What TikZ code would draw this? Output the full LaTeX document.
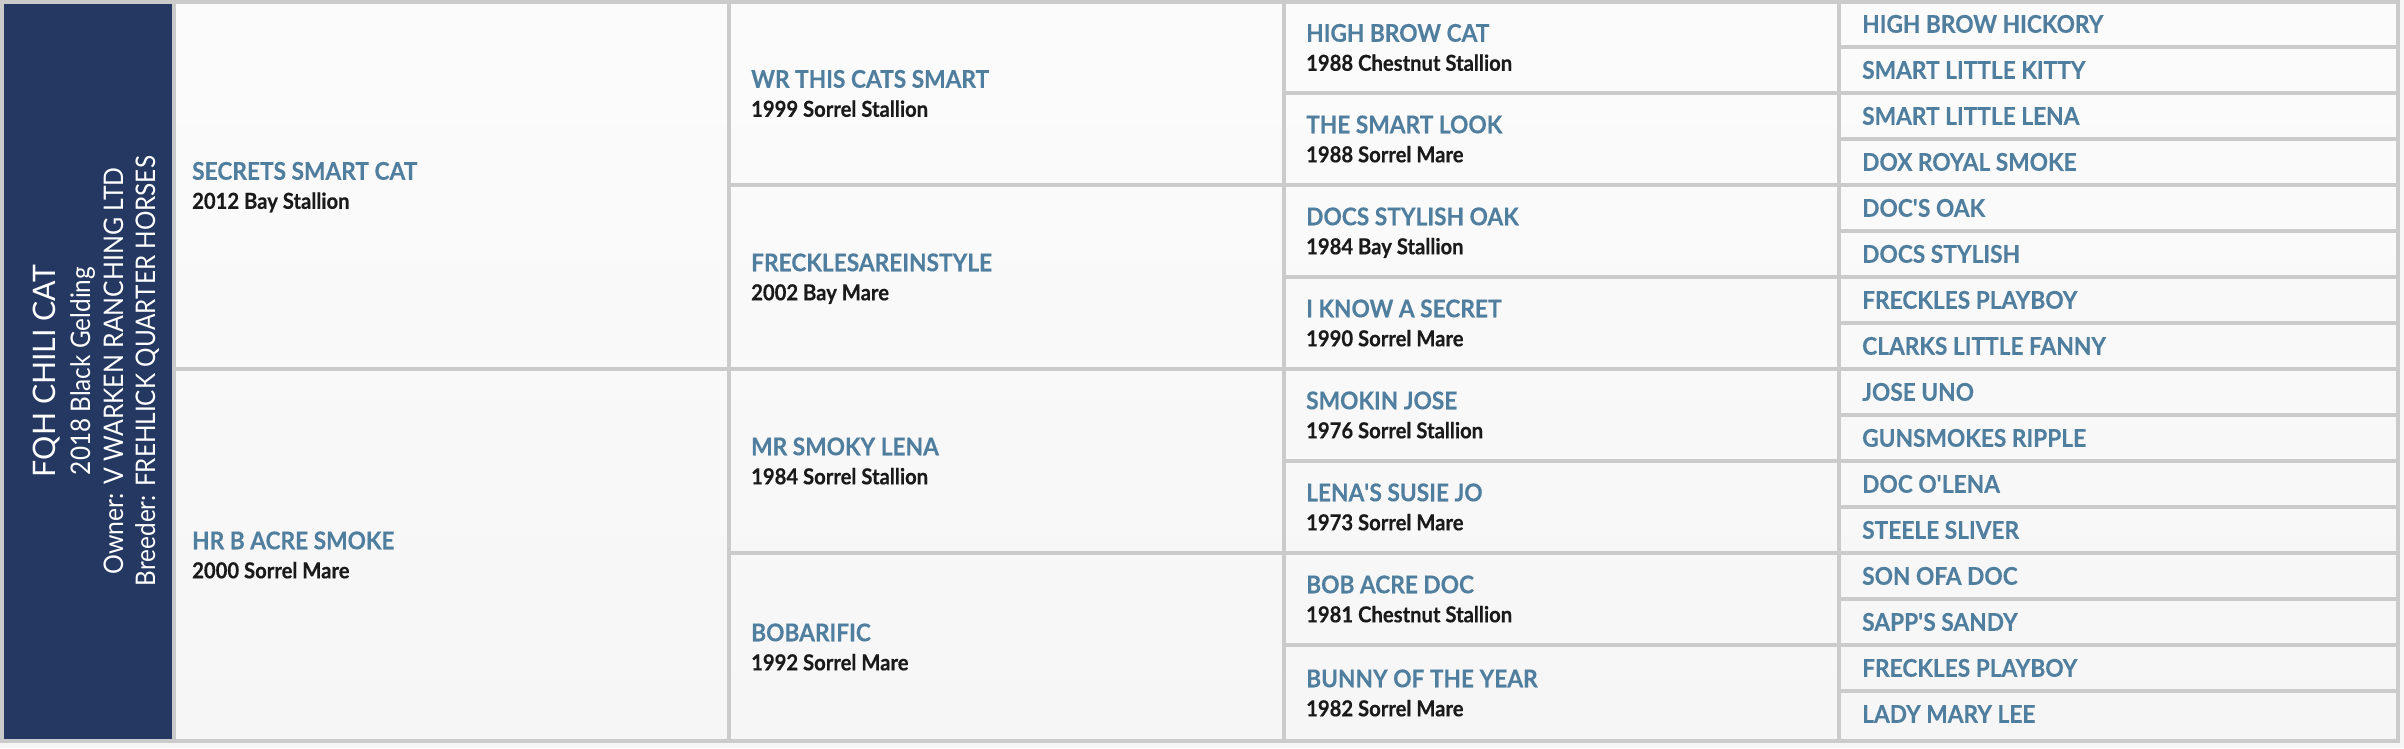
\documentclass[tikz,border=0pt]{standalone}
\usepackage{fontspec}
\usepackage{graphicx}
\setmainfont{Lato}
\newfontfamily\pedfont{Lato}[FakeStretch=0.93, FakeBold=0.3]
\newfontfamily\peddetfont{Lato}[FakeStretch=0.92, FakeBold=0.4]
\newfontfamily\subjfont{Lato}
\definecolor{navy}{HTML}{253861}
\definecolor{nameblue}{HTML}{4F7E9E}
\definecolor{detailc}{HTML}{1A1A1A}
\definecolor{gridgray}{HTML}{CBCBCB}
\definecolor{pagebg}{HTML}{F6F6F6}
\newcommand{\fitlen}[2]{\resizebox{#1pt}{\height}{#2}}
\begin{document}
\begin{tikzpicture}[x=1pt,y=-1pt,
  gridline/.style={draw=gridgray, line width=4pt},
  horsename/.style={anchor=base west, inner sep=0pt, text=nameblue, font=\pedfont\bfseries\fontsize{24.4}{26}\selectfont},
  horsedetail/.style={anchor=base west, inner sep=0pt, text=detailc, font=\peddetfont\bfseries\fontsize{22}{24}\selectfont},
  subjtext/.style={anchor=base, inner sep=0pt, rotate=90, text=white, font=\subjfont\fontsize{27}{29}\selectfont},
  subjtitle/.style={subjtext, font=\subjfont\fontsize{31}{33}\selectfont}]
\useasboundingbox (0,0) rectangle (2404,748);
\fill[pagebg] (0,0) rectangle (2404,748);
\shade[top color=white!60!pagebg, bottom color=pagebg] (2,2) rectangle (2398,741);
\fill[navy] (2,2) rectangle (174,741);
% grid
\draw[gridline] (2,2) rectangle (2398,741);
\foreach \x in {174,729,1284,1839} \draw[gridline] (\x,2) -- (\x,741);
\draw[gridline] (174,369) -- (729,369);
\foreach \y in {185,369,553} \draw[gridline] (729,\y) -- (1284,\y);
\foreach \k in {1,...,7} \draw[gridline] (1284,{1+92*\k}) -- (1839,{1+92*\k});
\foreach \k in {1,...,15} \draw[gridline] (1839,{1+46*\k}) -- (2398,{1+46*\k});
% subject
\node[subjtitle] (subj) at (56,371) {\fitlen{212}{FQH CHILI CAT}};
\node[subjtext] (subjinfo) at (90,371) {\fitlen{208}{2018 Black Gelding}};
\node[subjtext] (owner) at (123,371) {\fitlen{407}{Owner: V WARKEN RANCHING LTD}};
\node[subjtext] (breeder) at (155,371) {\fitlen{430}{Breeder: FREHLICK QUARTER HORSES}};
% column 1
\node[horsename] (s) at (192,{185.5-5.75}) {SECRETS SMART CAT};
\node[horsedetail] (sd) at (192,{185.5+23.3}) {2012 Bay Stallion};
\node[horsename] (d) at (192,{555-5.75}) {HR B ACRE SMOKE};
\node[horsedetail] (dd) at (192,{555+23.3}) {2000 Sorrel Mare};
% column 2
\node[horsename] (ss) at (751,{93.5-5.75}) {WR THIS CATS SMART};
\node[horsedetail] (ssd) at (751,{93.5+23.3}) {1999 Sorrel Stallion};
\node[horsename] (sdm) at (751,{277-5.75}) {FRECKLESAREINSTYLE};
\node[horsedetail] (sdmd) at (751,{277+23.3}) {2002 Bay Mare};
\node[horsename] (ds) at (751,{461-5.75}) {MR SMOKY LENA};
\node[horsedetail] (dsd) at (751,{461+23.3}) {1984 Sorrel Stallion};
\node[horsename] (dm) at (751,{647-5.75}) {BOBARIFIC};
\node[horsedetail] (dmd) at (751,{647+23.3}) {1992 Sorrel Mare};
% column 3
\node[horsename] (g1) at (1306,{47.5-5.75}) {HIGH BROW CAT};
\node[horsedetail] (g1d) at (1306,{47.5+23.3}) {1988 Chestnut Stallion};
\node[horsename] (g2) at (1306,{139-5.75}) {THE SMART LOOK};
\node[horsedetail] (g2d) at (1306,{139+23.3}) {1988 Sorrel Mare};
\node[horsename] (g3) at (1306,{231-5.75}) {DOCS STYLISH OAK};
\node[horsedetail] (g3d) at (1306,{231+23.3}) {1984 Bay Stallion};
\node[horsename] (g4) at (1306,{323-5.75}) {I KNOW A SECRET};
\node[horsedetail] (g4d) at (1306,{323+23.3}) {1990 Sorrel Mare};
\node[horsename] (g5) at (1306,{415-5.75}) {SMOKIN JOSE};
\node[horsedetail] (g5d) at (1306,{415+23.3}) {1976 Sorrel Stallion};
\node[horsename] (g6) at (1306,{507-5.75}) {LENA\textquotesingle S SUSIE JO};
\node[horsedetail] (g6d) at (1306,{507+23.3}) {1973 Sorrel Mare};
\node[horsename] (g7) at (1306,{599-5.75}) {BOB ACRE DOC};
\node[horsedetail] (g7d) at (1306,{599+23.3}) {1981 Chestnut Stallion};
\node[horsename] (g8) at (1306,{693-5.75}) {BUNNY OF THE YEAR};
\node[horsedetail] (g8d) at (1306,{693+23.3}) {1982 Sorrel Mare};
% column 4
\foreach \nm [count=\i] in {HIGH BROW HICKORY, SMART LITTLE KITTY, SMART LITTLE LENA, DOX ROYAL SMOKE, DOC\textquotesingle S OAK, DOCS STYLISH, FRECKLES PLAYBOY, CLARKS LITTLE FANNY, JOSE UNO, GUNSMOKES RIPPLE, DOC O\textquotesingle LENA, STEELE SLIVER, SON OFA DOC, SAPP\textquotesingle S SANDY, FRECKLES PLAYBOY, LADY MARY LEE}
  \node[horsename] (gg\i) at (1862,{1+46*\i-23+8.75}) {\nm};
\end{tikzpicture}
\end{document}
